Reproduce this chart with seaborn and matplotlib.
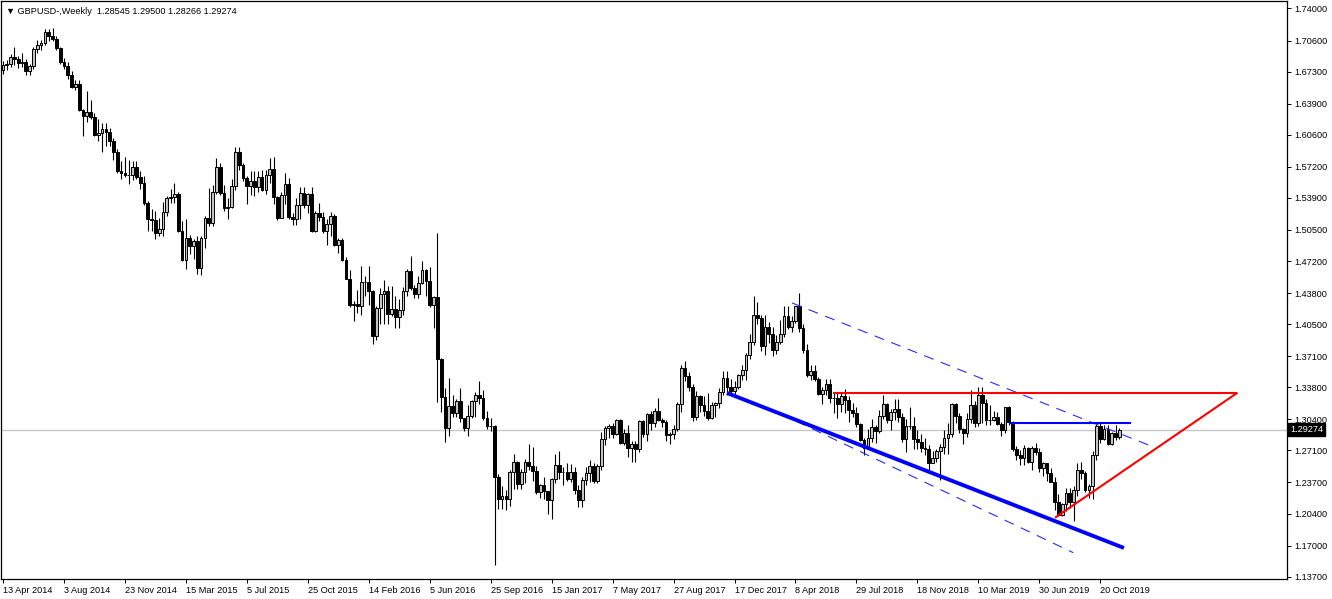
import matplotlib
matplotlib.use("Agg")
import matplotlib.pyplot as plt
import numpy as np
import pandas as pd
import seaborn as sns

# ---------------- data ----------------
symbol_header = "\u25BC GBPUSD-,Weekly  1.28545 1.29500 1.28266 1.29274"
first_date = "2014-04-13"
first_open = 1.6745
last_price = 1.29274

closes = [
    1.6797, 1.6807, 1.6885, 1.6864, 1.6820, 1.6837, 1.6737, 1.6794, 1.6970, 1.7010,
    1.7036, 1.7153, 1.7106, 1.7080, 1.6979, 1.6832, 1.6794, 1.6695, 1.6563, 1.6599,
    1.6318, 1.6260, 1.6302, 1.6245, 1.6062, 1.6082, 1.6120, 1.6090, 1.5997, 1.5873,
    1.5678, 1.5650, 1.5637, 1.5630, 1.5715, 1.5609, 1.5544, 1.5339, 1.5162, 1.5160,
    1.5020, 1.5057, 1.5244, 1.5388, 1.5395, 1.5429, 1.5042, 1.4730, 1.4962, 1.4880,
    1.4936, 1.4642, 1.4968, 1.5178, 1.5124, 1.5456, 1.5722, 1.5438, 1.5278, 1.5289,
    1.5520, 1.5880, 1.5741, 1.5604, 1.5512, 1.5565, 1.5505, 1.5608, 1.5475, 1.5636,
    1.5700, 1.5400, 1.5175, 1.5425, 1.5535, 1.5185, 1.5170, 1.5310, 1.5443, 1.5315,
    1.5429, 1.5040, 1.5225, 1.5190, 1.5040, 1.5118, 1.5193, 1.4893, 1.4943, 1.4736,
    1.4532, 1.4250, 1.4269, 1.4248, 1.4500, 1.4500, 1.4406, 1.3923, 1.4226, 1.4368,
    1.4402, 1.4155, 1.4210, 1.4130, 1.4200, 1.4406, 1.4616, 1.4433, 1.4365, 1.4490,
    1.4620, 1.4510, 1.4254, 1.4335, 1.3679, 1.3280, 1.2949, 1.3185, 1.3110, 1.3230,
    1.3050, 1.2950, 1.3071, 1.3230, 1.3300, 1.3265, 1.3050, 1.2973, 1.2970, 1.2432,
    1.2190, 1.2230, 1.2190, 1.2480, 1.2590, 1.2355, 1.2480, 1.2585, 1.2545, 1.2490,
    1.2270, 1.2340, 1.2280, 1.2187, 1.2405, 1.2560, 1.2485, 1.2480, 1.2410, 1.2480,
    1.2285, 1.2180, 1.2400, 1.2470, 1.2550, 1.2390, 1.2540, 1.2830, 1.2950, 1.2970,
    1.2880, 1.3030, 1.2790, 1.2890, 1.2740, 1.2780, 1.2720, 1.3025, 1.2885, 1.3100,
    1.3000, 1.3130, 1.3030, 1.3010, 1.2870, 1.2880, 1.2940, 1.3200, 1.3590, 1.3500,
    1.3385, 1.3070, 1.3285, 1.3190, 1.3130, 1.3050, 1.3190, 1.3215, 1.3335, 1.3480,
    1.3380, 1.3340, 1.3380, 1.3510, 1.3565, 1.3725, 1.3860, 1.4150, 1.4120, 1.3820,
    1.4020, 1.3950, 1.3780, 1.3865, 1.3950, 1.4140, 1.4015, 1.4085, 1.4240, 1.4010,
    1.3775, 1.3515, 1.3550, 1.3470, 1.3310, 1.3350, 1.3415, 1.3270, 1.3265, 1.3200,
    1.3285, 1.3240, 1.3140, 1.3105, 1.2995, 1.2825, 1.2735, 1.2840, 1.2960, 1.2920,
    1.3075, 1.3205, 1.3030, 1.3115, 1.3150, 1.3060, 1.2830, 1.2970, 1.2970, 1.2830,
    1.2800, 1.2740, 1.2730, 1.2580, 1.2632, 1.2700, 1.2745, 1.2840, 1.2885, 1.3205,
    1.3075, 1.2940, 1.2890, 1.3045, 1.3190, 1.3000, 1.3295, 1.3210, 1.3035, 1.3035,
    1.3070, 1.2995, 1.2925, 1.3170, 1.3010, 1.2720, 1.2660, 1.2630, 1.2740, 1.2590,
    1.2740, 1.2690, 1.2520, 1.2575, 1.2470, 1.2375, 1.2165, 1.2030, 1.2140, 1.2260,
    1.2160, 1.2290, 1.2500, 1.2475, 1.2290, 1.2330, 1.2660, 1.2965, 1.2830, 1.2940,
    1.2775, 1.2900, 1.28545, 1.29274,
]

highs = [
    1.6841, 1.6851, 1.6920, 1.6996, 1.6894, 1.6924, 1.6869, 1.6810, 1.6992, 1.7064,
    1.7064, 1.7180, 1.7179, 1.7191, 1.7105, 1.6990, 1.6873, 1.6836, 1.6741, 1.6643,
    1.6644, 1.6330, 1.6525, 1.6433, 1.6286, 1.6226, 1.6183, 1.6184, 1.6129, 1.6022,
    1.5905, 1.5778, 1.5826, 1.5787, 1.5785, 1.5785, 1.5675, 1.5620, 1.5358, 1.5270,
    1.5250, 1.5178, 1.5351, 1.5415, 1.5488, 1.5552, 1.5449, 1.5145, 1.5166, 1.5000,
    1.4953, 1.4990, 1.4988, 1.5196, 1.5498, 1.5522, 1.5815, 1.5762, 1.5522, 1.5387,
    1.5589, 1.5930, 1.5930, 1.5762, 1.5625, 1.5675, 1.5678, 1.5674, 1.5690, 1.5687,
    1.5815, 1.5820, 1.5415, 1.5450, 1.5659, 1.5603, 1.5233, 1.5384, 1.5509, 1.5509,
    1.5438, 1.5508, 1.5248, 1.5336, 1.5243, 1.5168, 1.5242, 1.5220, 1.4965, 1.4964,
    1.4758, 1.4620, 1.4301, 1.4414, 1.4668, 1.4561, 1.4669, 1.4410, 1.4245, 1.4437,
    1.4515, 1.4458, 1.4459, 1.4350, 1.4315, 1.4446, 1.4633, 1.4770, 1.4470, 1.4560,
    1.4720, 1.4640, 1.4660, 1.4350, 1.5018, 1.3690, 1.3370, 1.3480, 1.3296, 1.3260,
    1.3372, 1.3059, 1.3187, 1.3244, 1.3330, 1.3445, 1.3354, 1.3125, 1.3055, 1.2975,
    1.2460, 1.2337, 1.2291, 1.2500, 1.2674, 1.2602, 1.2512, 1.2620, 1.2775, 1.2750,
    1.2545, 1.2350, 1.2433, 1.2270, 1.2415, 1.2675, 1.2705, 1.2535, 1.2580, 1.2570,
    1.2530, 1.2343, 1.2432, 1.2535, 1.2612, 1.2580, 1.2562, 1.2905, 1.2965, 1.2990,
    1.3000, 1.3048, 1.3046, 1.2940, 1.2978, 1.2813, 1.2814, 1.3031, 1.3029, 1.3112,
    1.3125, 1.3165, 1.3268, 1.3055, 1.3030, 1.2908, 1.2981, 1.3223, 1.3615, 1.3657,
    1.3545, 1.3410, 1.3340, 1.3296, 1.3285, 1.3321, 1.3222, 1.3225, 1.3372, 1.3549,
    1.3550, 1.3469, 1.3448, 1.3525, 1.3613, 1.3743, 1.3943, 1.4345, 1.4285, 1.4145,
    1.4145, 1.4071, 1.4017, 1.3930, 1.4089, 1.4245, 1.4244, 1.4137, 1.4245, 1.4376,
    1.4050, 1.3835, 1.3618, 1.3617, 1.3486, 1.3385, 1.3470, 1.3473, 1.3325, 1.3315,
    1.3315, 1.3364, 1.3288, 1.3214, 1.3174, 1.3003, 1.2840, 1.2935, 1.3043, 1.2985,
    1.3141, 1.3298, 1.3218, 1.3150, 1.3258, 1.3258, 1.3108, 1.3043, 1.3175, 1.3061,
    1.2930, 1.2889, 1.2839, 1.2770, 1.2704, 1.2723, 1.2781, 1.2930, 1.2997, 1.3217,
    1.3215, 1.3110, 1.2945, 1.3108, 1.3350, 1.3233, 1.3381, 1.3380, 1.3261, 1.3196,
    1.3130, 1.3120, 1.3007, 1.3176, 1.3177, 1.3026, 1.2757, 1.2710, 1.2763, 1.2749,
    1.2760, 1.2784, 1.2740, 1.2583, 1.2572, 1.2520, 1.2423, 1.2250, 1.2155, 1.2310,
    1.2315, 1.2337, 1.2580, 1.2582, 1.2490, 1.2350, 1.2707, 1.2989, 1.3012, 1.2977,
    1.2977, 1.2908, 1.2985, 1.2950,
]

lows = [
    1.6703, 1.6750, 1.6775, 1.6803, 1.6772, 1.6783, 1.6692, 1.6692, 1.6760, 1.6923,
    1.6961, 1.7014, 1.7060, 1.7052, 1.6962, 1.6811, 1.6756, 1.6649, 1.6553, 1.6533,
    1.6310, 1.6052, 1.6198, 1.6227, 1.6052, 1.5996, 1.5875, 1.5946, 1.5944, 1.5791,
    1.5659, 1.5590, 1.5612, 1.5541, 1.5584, 1.5589, 1.5485, 1.5310, 1.5035, 1.5036,
    1.4952, 1.4987, 1.4985, 1.5200, 1.5335, 1.5332, 1.5024, 1.4720, 1.4633, 1.4791,
    1.4741, 1.4582, 1.4567, 1.4854, 1.5089, 1.5087, 1.5436, 1.5416, 1.5250, 1.5170,
    1.5284, 1.5474, 1.5690, 1.5565, 1.5329, 1.5420, 1.5414, 1.5453, 1.5464, 1.5436,
    1.5550, 1.5327, 1.5160, 1.5205, 1.5329, 1.5165, 1.5106, 1.5107, 1.5162, 1.5282,
    1.5229, 1.5026, 1.5025, 1.5140, 1.5020, 1.4895, 1.4990, 1.4880, 1.4803, 1.4722,
    1.4529, 1.4235, 1.4080, 1.4168, 1.4143, 1.4350, 1.4256, 1.3835, 1.3878, 1.4053,
    1.4052, 1.4052, 1.4136, 1.4005, 1.4004, 1.4143, 1.4354, 1.4408, 1.4330, 1.4331,
    1.4480, 1.4350, 1.4230, 1.4010, 1.3229, 1.3120, 1.2798, 1.2860, 1.3065, 1.3060,
    1.3011, 1.2914, 1.2865, 1.3056, 1.3060, 1.3205, 1.3030, 1.2942, 1.2915, 1.1491,
    1.2088, 1.2086, 1.2080, 1.2125, 1.2300, 1.2300, 1.2300, 1.2360, 1.2500, 1.2386,
    1.2250, 1.2200, 1.2198, 1.2040, 1.1986, 1.2360, 1.2412, 1.2345, 1.2385, 1.2380,
    1.2250, 1.2110, 1.2108, 1.2340, 1.2374, 1.2365, 1.2366, 1.2500, 1.2770, 1.2840,
    1.2845, 1.2873, 1.2773, 1.2767, 1.2635, 1.2589, 1.2590, 1.2693, 1.2848, 1.2812,
    1.2932, 1.2954, 1.3027, 1.2955, 1.2811, 1.2775, 1.2836, 1.2920, 1.3116, 1.3447,
    1.3338, 1.3027, 1.3030, 1.3120, 1.3080, 1.3038, 1.3040, 1.3065, 1.3158, 1.3300,
    1.3300, 1.3302, 1.3300, 1.3365, 1.3460, 1.3458, 1.3676, 1.3834, 1.4056, 1.3765,
    1.3720, 1.3855, 1.3711, 1.3730, 1.3843, 1.3917, 1.4000, 1.3965, 1.4060, 1.3965,
    1.3745, 1.3486, 1.3461, 1.3450, 1.3300, 1.3204, 1.3297, 1.3217, 1.3102, 1.3050,
    1.3115, 1.3102, 1.3010, 1.3062, 1.2962, 1.2808, 1.2662, 1.2725, 1.2799, 1.2785,
    1.2892, 1.3048, 1.2998, 1.2922, 1.3029, 1.3009, 1.2802, 1.2696, 1.2935, 1.2723,
    1.2723, 1.2696, 1.2659, 1.2477, 1.2592, 1.2590, 1.2396, 1.2670, 1.2670, 1.2854,
    1.3004, 1.2895, 1.2773, 1.2854, 1.3004, 1.2960, 1.2970, 1.3004, 1.2977, 1.2975,
    1.3019, 1.2980, 1.2866, 1.2890, 1.2975, 1.2707, 1.2605, 1.2558, 1.2560, 1.2575,
    1.2505, 1.2658, 1.2480, 1.2440, 1.2382, 1.2370, 1.2080, 1.2015, 1.2014, 1.2070,
    1.2100, 1.1959, 1.2225, 1.2405, 1.2270, 1.2205, 1.2195, 1.2610, 1.2793, 1.2819,
    1.2768, 1.2768, 1.2822, 1.28266,
]

x_tick_labels = [
    "13 Apr 2014", "3 Aug 2014", "23 Nov 2014", "15 Mar 2015", "5 Jul 2015",
    "25 Oct 2015", "14 Feb 2016", "5 Jun 2016", "25 Sep 2016", "15 Jan 2017",
    "7 May 2017", "27 Aug 2017", "17 Dec 2017", "8 Apr 2018", "29 Jul 2018",
    "18 Nov 2018", "10 Mar 2019", "30 Jun 2019", "20 Oct 2019",
]
y_ticks = [1.74, 1.706, 1.673, 1.639, 1.606, 1.572, 1.539, 1.505, 1.472, 1.438,
           1.405, 1.371, 1.338, 1.304, 1.271, 1.237, 1.204, 1.170, 1.137]

# drawn objects (bar index, price)
blue_trend = [(190.0, 1.3320), (294.2, 1.1675)]
channel_upper = [(207.1, 1.4275), (301.3, 1.2757)]
channel_lower = [(208.1, 1.3022), (280.9, 1.1625)]
blue_level = [(264.3, 1.3004), (296.0, 1.3004)]
red_level = [(217.8, 1.3323), (324.0, 1.3323)]
red_trend = [(276.1, 1.1996), (324.0, 1.3323)]

# ---------------- build ----------------
n = len(closes)
if not (n == len(highs) == len(lows)):
    raise ValueError(f"length mismatch {n} {len(highs)} {len(lows)}")
dates = pd.date_range(first_date, periods=n, freq="W-SUN")
opens = [first_open] + closes[:-1]
df = pd.DataFrame(dict(date=dates, open=opens, high=highs, low=lows, close=closes))
df["x"] = np.arange(n)

sns.set_theme(style="white")
plt.rcParams["font.family"] = ["Liberation Sans", "DejaVu Sans"]

W, H = 1332, 599
fig = plt.figure(figsize=(W / 100, H / 100), dpi=100)
fig.patch.set_facecolor("white")
ax = fig.add_axes([1 / W, 20 / H, 1286 / W, 578 / H])
ax.set_facecolor("white")

# current price line
ax.axhline(last_price, color="#c8c8c8", lw=1.0, zorder=1)

# candles
bull = df["close"] >= df["open"]
ax.vlines(df["x"], df["low"], df["high"], color="black", lw=0.8, zorder=2)
b = df[bull]
ax.bar(b["x"], b["close"] - b["open"], bottom=b["open"], width=0.72,
       color="#c4c4c4", edgecolor="black", linewidth=0.7, zorder=3)
s = df[~bull]
ax.bar(s["x"], s["open"] - s["close"], bottom=s["close"], width=0.72,
       color="black", edgecolor="black", linewidth=0.7, zorder=3)

def seg(pts, **kw):
    xs, ys = zip(*pts)
    ax.plot(xs, ys, solid_capstyle="butt", **kw)

seg(channel_upper, color="#2a2aff", lw=0.8, linestyle=(0, (9, 7)), zorder=4)
seg(channel_lower, color="#2a2aff", lw=0.8, linestyle=(0, (9, 7)), zorder=4)
seg(blue_trend, color="#0000ff", lw=2.8, zorder=5)
seg(blue_level, color="#0000ff", lw=1.5, zorder=5)
seg(red_level, color="#ff0000", lw=1.5, zorder=5)
seg(red_trend, color="#ff0000", lw=1.5, zorder=5)

# axes
ax.set_xlim(-0.525, 337.0)
ax.set_ylim(1.13456, 1.74795)

date_str = [f"{d.day} {d.strftime('%b %Y')}" for d in dates]
xpos = [date_str.index(lbl) for lbl in x_tick_labels]
ax.set_xticks(xpos)
ax.set_xticklabels(x_tick_labels)
for t in ax.get_xticklabels():
    t.set_horizontalalignment("left")

ax.yaxis.tick_right()
ax.set_yticks(y_ticks)
ax.set_yticklabels([f"{v:.5f}" for v in y_ticks])

ax.tick_params(axis="both", which="major", direction="out", length=3,
               width=0.7, color="black", labelsize=6.6, labelcolor="black", pad=2)
ax.tick_params(axis="x", bottom=True)
ax.tick_params(axis="y", right=True, left=False)
for sp in ax.spines.values():
    sp.set_visible(True)
    sp.set_color("black")
    sp.set_linewidth(0.9)
ax.grid(False)

# price tag
ax.text(1.0 + 3 / 1286, last_price, f"{last_price:.5f}", transform=ax.get_yaxis_transform(),
        ha="left", va="center", fontsize=6.6, color="white", zorder=10, clip_on=False,
        bbox=dict(boxstyle="square,pad=0.22", fc="black", ec="black"))

fig.text(6 / W, 1 - 11 / H, symbol_header, fontsize=6.6, ha="left", va="center",
         color="black")

fig.savefig("out.png", dpi=100, facecolor="white")
